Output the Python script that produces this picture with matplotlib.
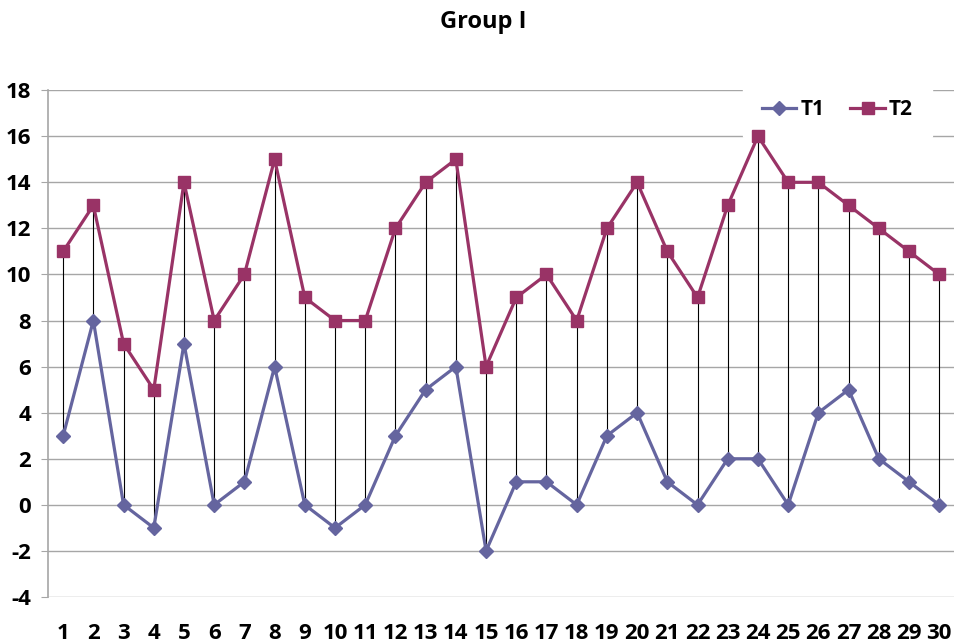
import numpy as np
import matplotlib
matplotlib.use("Agg")
from matplotlib import pyplot as plt

categories = list(range(1, 31))
t1 = [3, 8, 0, -1, 7, 0, 1, 6, 0, -1, 0, 3, 5, 6, -2, 1, 1, 0, 3, 4, 1, 0, 2, 2, 0, 4, 5, 2, 1, 0]
t2 = [11, 13, 7, 5, 14, 8, 10, 15, 9, 8, 8, 12, 14, 15, 6, 9, 10, 8, 12, 14, 11, 9, 13, 16, 14, 14, 13, 12, 11, 10]

plt.rcParams['font.family'] = ['Open Sans', 'DejaVu Sans']
plt.rcParams['font.weight'] = 'bold'
plt.rcParams['axes.unicode_minus'] = False

fig = plt.figure(figsize=(9.57, 6.44), dpi=100)
ax = fig.add_axes([0.0502, 0.073, 0.947, 0.787])

x = np.array(categories)
# high-low lines between the two series
ax.vlines(x, np.minimum(t1, t2), np.maximum(t1, t2), colors='black', linewidth=0.8, zorder=2)

ax.plot(x, t1, color='#65659F', linewidth=2.3, marker='D', markersize=7, label='T1', zorder=3)
ax.plot(x, t2, color='#993366', linewidth=2.3, marker='s', markersize=8, label='T2', zorder=3)

ax.set_xlim(0.5, 30.5)
ax.set_ylim(-4, 18)
ax.set_yticks(np.arange(-4, 19, 2))
ax.set_xticks(x)
ax.set_xticklabels([str(c) for c in categories])
ax.grid(axis='y', color='#A6A6A6', linewidth=1)
ax.set_axisbelow(True)
for s in ['top', 'right', 'bottom']:
    ax.spines[s].set_visible(False)
ax.spines['left'].set_color('#A6A6A6')
ax.spines['left'].set_linewidth(1.2)
ax.tick_params(axis='x', length=0, labelsize=16, pad=19)
ax.tick_params(axis='y', length=5, color='#A6A6A6', labelsize=16, pad=7)
for lab in ax.get_xticklabels() + ax.get_yticklabels():
    lab.set_fontweight('bold')

fig.suptitle('Group I', x=0.505, y=0.985, fontsize=17, fontweight='bold')

leg = ax.legend(loc='center', bbox_to_anchor=(0.871, 0.962), ncol=2, frameon=True,
                prop={'size': 15, 'weight': 'bold'}, handlelength=1.65, handletextpad=0.2,
                columnspacing=1.25, borderpad=0.9)
leg.get_frame().set_edgecolor('white')
leg.get_frame().set_facecolor('white')
leg.get_frame().set_alpha(1)
leg.set_zorder(2.5)

fig.savefig('out.png', dpi=100)
